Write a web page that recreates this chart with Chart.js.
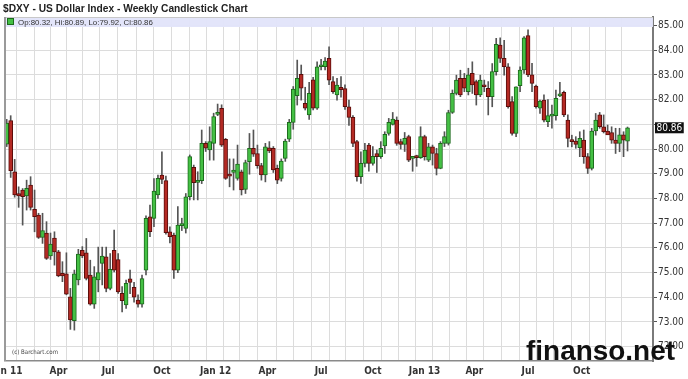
<!DOCTYPE html>
<html><head><meta charset="utf-8">
<script src="https://cdn.jsdelivr.net/npm/chart.js@4.4.0/dist/chart.umd.min.js"></script>
<style>html,body{margin:0;padding:0;background:#fff;overflow:hidden}#wrap{width:688px;height:379px;position:relative}</style>
</head><body><div id="wrap"><canvas id="c" width="688" height="379"></canvas></div>
<script>
// Weekly bars, first bar = week of 2011-01-03
const firstWeek = '2011-01-03';
const opens = [
80.2,81.15,79.08,78.2,78.34,78.1,78.54,77.56,77.33,76.42,
76.6,75.67,76.4,75.84,74.97,74.95,74.02,73.05,74.7,75.9,
75.8,74.9,73.72,74.7,75.37,75.64,74.36,75.9,75.53,74.16,
73.69,74.75,74.4,73.89,73.72,75.1,77.26,77.19,78.14,78.95,
78.72,76.65,76.52,75.1,76.9,76.79,78.07,79.26,78.65,78.72,
80.23,79.96,80.23,81.4,81.65,80.39,78.95,79.05,78.81,79.08,
78.37,79.49,80.03,79.82,79.33,78.95,80.05,80.03,79.22,78.81,
79.62,80.4,81.08,82.16,83.02,81.85,81.38,82.8,81.65,83.33,
83.33,83.67,82.73,82.19,82.5,82.45,81.71,81.28,80.3,78.88,
79.42,80.16,79.42,79.82,79.69,80.13,80.63,81.0,81.17,80.3,
80.19,80.5,79.62,79.67,79.65,80.5,79.55,80.09,79.82,79.22,
80.23,80.23,81.48,82.25,82.86,82.86,82.32,83.06,82.73,82.19,
82.59,82.46,82.12,83.13,84.21,83.67,83.33,81.92,80.63,82.56,
83.2,84.59,83.0,82.55,81.65,81.98,81.11,81.33,81.35,82.15,
82.29,81.17,80.36,80.32,80.05,80.36,79.69,79.22,80.73,81.38,
80.9,80.73,80.67,80.36,80.23,80.57,80.32];
const highs = [
81.2,81.35,79.58,78.47,78.4,78.74,78.88,78.34,77.4,77.4,
77.06,76.6,76.65,75.9,75.44,75.8,74.36,75.1,75.94,76.05,
76.38,75.5,75.24,76.03,76.03,76.03,75.77,76.72,75.77,74.43,
74.7,75.1,74.6,74.1,74.9,77.3,77.73,78.8,78.95,79.89,
78.9,76.85,76.6,77.67,77.2,78.2,79.76,79.35,79.08,80.77,
80.3,80.9,81.45,81.82,81.79,80.43,79.6,79.6,80.16,79.15,
79.55,80.63,80.77,80.16,79.42,80.23,80.3,80.1,79.35,79.6,
80.4,81.2,82.53,83.6,83.4,82.5,82.7,82.9,83.53,83.63,
83.7,84.14,82.93,82.86,82.93,82.6,81.98,81.35,80.35,79.89,
80.23,80.23,80.1,79.96,80.3,80.7,81.24,81.48,81.3,80.4,
80.67,80.56,79.7,79.75,80.9,80.56,80.23,80.16,80.03,80.3,
80.7,81.57,82.39,82.99,83.19,83.06,83.27,83.53,82.79,82.99,
82.79,82.73,83.46,84.48,84.5,84.4,83.46,82.12,82.52,83.33,
84.55,84.82,83.47,82.59,81.98,82.19,82.0,81.78,82.39,82.7,
82.35,81.38,80.56,80.5,80.7,80.77,79.82,80.84,81.44,81.48,
81.38,80.97,80.9,80.84,80.84,80.7,80.89];
const lows = [
80.1,78.85,78.05,77.64,76.92,77.53,77.53,76.65,76.38,76.18,
75.53,75.53,75.3,74.83,74.63,74.1,72.7,72.67,74.5,75.6,
74.7,73.68,73.55,74.22,74.5,74.22,74.3,75.03,74.16,73.41,
73.55,74.15,73.8,73.6,73.6,74.9,76.45,76.86,78.0,78.6,
76.55,76.2,74.76,75.0,76.7,76.6,77.94,77.94,77.94,78.6,
79.9,79.55,79.55,81.35,80.1,78.77,78.47,78.34,78.74,78.14,
78.2,78.98,79.7,79.22,78.74,78.67,79.85,79.05,78.6,78.7,
79.5,80.3,80.8,81.78,81.98,81.58,81.2,81.58,81.6,83.2,
83.2,82.6,82.25,81.98,82.1,81.6,80.96,80.1,78.7,78.61,
79.28,79.1,79.35,79.05,79.62,79.82,80.56,80.97,80.15,80.0,
79.9,79.49,79.1,79.3,79.62,79.55,79.49,79.35,78.95,79.2,
80.1,80.16,81.44,82.19,82.12,82.32,82.19,82.25,81.78,82.12,
82.32,81.38,81.71,82.99,83.5,82.99,81.65,80.56,80.5,82.32,
83.06,82.93,82.32,81.65,81.44,81.1,80.9,80.84,81.17,82.12,
81.31,80.09,80.09,80.03,79.69,79.42,79.01,79.15,80.56,80.84,
80.65,80.63,80.23,79.82,79.89,79.69,79.92];
const closes = [
81.05,79.12,78.14,78.1,78.07,78.41,77.64,77.26,76.42,76.7,
75.57,76.15,75.84,74.86,74.86,74.13,73.08,74.95,75.75,75.67,
74.76,73.72,74.83,75.0,75.67,74.36,75.13,75.1,74.22,73.86,
74.56,74.6,74.0,73.72,74.76,77.19,76.65,78.3,78.81,78.77,
76.61,76.45,75.1,76.92,76.95,78.07,79.69,78.64,78.72,80.23,
80.03,80.3,81.31,81.45,80.16,78.81,78.9,79.15,79.39,78.34,
79.45,80.03,79.79,79.33,78.95,80.09,79.92,79.15,78.74,79.51,
80.32,81.08,82.43,82.86,82.46,81.65,82.25,81.65,83.33,83.4,
83.56,82.79,82.32,82.59,82.4,81.71,81.28,80.23,78.88,79.42,
79.96,79.42,79.7,79.69,80.03,80.59,81.08,81.21,80.23,80.19,
80.43,79.55,79.67,79.65,80.5,79.69,80.09,79.82,79.22,80.23,
80.5,81.48,82.25,82.79,82.19,82.46,83.0,82.59,82.19,82.79,
82.52,82.12,83.13,84.24,83.67,83.33,81.71,80.63,82.52,83.2,
84.5,83.0,82.66,81.71,81.94,81.17,81.35,81.37,82.05,82.2,
81.38,80.43,80.3,80.19,80.43,79.69,79.22,80.73,81.17,80.9,
80.7,80.57,80.36,80.23,80.57,80.36,80.86];

// position (in weeks) of each month boundary (grid lines)
const monthWeeks = [0,5,9,13,17,21,25.5,30,35,39,44,48,
  52.5,56.5,60.5,65.5,70,74,79,83,87.5,92,96.5,100.5,
  105,109,113.5,117.5,122,126.5,131,135.5,139.5,144.5,148.5,152.5];
const quarterWeeks = [0,13,25.5,39,52.5,65.5,79,92,105,117.5,131,144.5];
const quarterLabels = ['Jan 11','Apr','Jul','Oct','Jan 12','Apr','Jul','Oct','Jan 13','Apr','Jul','Oct'];
const yTicks = [72,73,74,75,76,77,78,79,80,81,82,83,84,85];

const titleText = '$DXY - US Dollar Index - Weekly Candlestick Chart';
const last = closes.length - 1;
const legendText = 'Op:' + opens[last].toFixed(2) + ', Hi:' + highs[last].toFixed(2) + ', Lo:' + lows[last].toFixed(2) + ', Cl:' + closes[last].toFixed(2);
const creditText = '(c) Barchart.com';
const watermark = 'finanso.net';

const NARROW = '"Liberation Sans Narrow","DejaVu Sans Condensed","Liberation Sans",sans-serif';
const GREEN = '#44c044', GREEN_B = '#1c6a1c', RED = '#b42a24', RED_B = '#5a0d0b';

const bodies = opens.map((o, i) => ({x: i, y: [Math.min(o, closes[i]), Math.max(o, closes[i])]}));
const wicks = opens.map((o, i) => ({x: i, y: [lows[i], highs[i]]}));
const up = opens.map((o, i) => closes[i] >= o);

function fitFont(ctx, text, weight, family, target, base) {
  ctx.font = weight + ' ' + base + 'px ' + family;
  const w = ctx.measureText(text).width;
  const size = base * target / w;
  ctx.font = weight + ' ' + size.toFixed(2) + 'px ' + family;
  return size;
}

const decor = {
  id: 'decor',
  beforeDraw(chart) {
    const c = chart.ctx;
    c.save(); c.fillStyle = '#fff'; c.fillRect(0, 0, chart.width, chart.height); c.restore();
  },
  beforeDatasetsDraw(chart) {
    const c = chart.ctx, a = chart.chartArea;
    c.save();
    c.fillStyle = 'rgba(226,228,250,0.95)';
    c.fillRect(a.left, a.top, a.right - a.left, 10);
    c.strokeStyle = '#c8c8c8'; c.lineWidth = 1;
    c.beginPath(); c.moveTo(a.left, a.top + 0.5); c.lineTo(a.right, a.top + 0.5); c.stroke();
    c.restore();
  },
  afterDraw(chart) {
    const c = chart.ctx, a = chart.chartArea, ys = chart.scales.y;
    c.save();
    // left plot border
    c.strokeStyle = '#9a9a9a'; c.lineWidth = 2;
    c.beginPath(); c.moveTo(a.left, a.top); c.lineTo(a.left, a.bottom); c.stroke();
    // title
    c.fillStyle = '#222'; c.textBaseline = 'alphabetic'; c.textAlign = 'left';
    fitFont(c, titleText, 'bold', '"Liberation Sans",Arial,sans-serif', 245, 11);
    c.fillText(titleText, 3, 12);
    // legend band
    c.fillStyle = GREEN; c.fillRect(7.5, 18.5, 6, 6);
    c.strokeStyle = GREEN_B; c.lineWidth = 1; c.strokeRect(7.5, 18.5, 6, 6);
    c.fillStyle = '#333'; c.textBaseline = 'middle';
    fitFont(c, legendText, 'normal', '"Liberation Sans",Arial,sans-serif', 135, 9);
    c.fillText(legendText, 18, 22.5);
    // credit
    c.fillStyle = '#444';
    fitFont(c, creditText, 'normal', NARROW, 46, 8);
    c.fillText(creditText, 12, 352);
    // last price box
    const yp = ys.getPixelForValue(closes[last]);
    const lbl = closes[last].toFixed(2);
    c.font = '10px ' + NARROW;
    const tw = c.measureText(lbl).width;
    c.fillStyle = '#111'; c.fillRect(655, yp - 5.5, tw + 3, 11);
    c.fillStyle = '#fff'; c.textBaseline = 'middle';
    c.fillText(lbl, 656.5, yp + 0.5);
    // watermark
    c.fillStyle = '#111'; c.textBaseline = 'alphabetic';
    fitFont(c, watermark, 'bold', '"Liberation Sans",Arial,sans-serif', 149, 28);
    c.fillText(watermark, 526, 360);
    c.restore();
  }
};

new Chart(document.getElementById('c'), {
  type: 'bar',
  data: {
    datasets: [
      {label: 'body', data: bodies, order: 0, grouped: false,
       backgroundColor: up.map(u => u ? GREEN : RED),
       borderColor: up.map(u => u ? GREEN_B : RED_B),
       borderWidth: 1, borderSkipped: false, barThickness: 4, minBarLength: 2},
      {label: 'wick', data: wicks, order: 1, grouped: false,
       backgroundColor: '#555', borderWidth: 0, barThickness: 1}
    ]
  },
  options: {
    responsive: false, animation: false, devicePixelRatio: 1,
    layout: {autoPadding: false, padding: {left: 5, right: 0, top: 17, bottom: 0}},
    plugins: {legend: {display: false}, tooltip: {enabled: false}, title: {display: false}},
    scales: {
      x: {
        type: 'linear', min: -0.43, max: 162.4, offset: false,
        afterBuildTicks: s => { s.ticks = monthWeeks.map(v => ({value: v})); },
        afterFit: s => { s.height = 18; s.paddingLeft = 0; s.paddingRight = 0; },
        ticks: {
          autoSkip: false, maxRotation: 0, padding: 4, color: '#333',
          font: {family: NARROW, size: 10, weight: 'bold'},
          callback: v => { const k = quarterWeeks.indexOf(v); return k >= 0 ? quarterLabels[k] : ''; }
        },
        grid: {color: '#dcdcdc', lineWidth: 1, drawTicks: false},
        border: {color: '#8a8a8a', width: 1.5}
      },
      y: {
        position: 'right', min: 71.42, max: 85.344,
        afterBuildTicks: s => { s.ticks = yTicks.map(v => ({value: v})); },
        afterFit: s => { s.width = 35; s.paddingTop = 0; s.paddingBottom = 0; },
        ticks: {
          padding: 1, color: '#333', font: {family: NARROW, size: 10},
          callback: v => Math.abs(v - closes[last]) < 0.5 ? '' : v.toFixed(2)
        },
        grid: {color: '#dcdcdc', lineWidth: 1, tickColor: '#555', tickLength: 4},
        border: {color: '#7a7a7a', width: 2}
      }
    }
  },
  plugins: [decor]
});
</script></body></html>
